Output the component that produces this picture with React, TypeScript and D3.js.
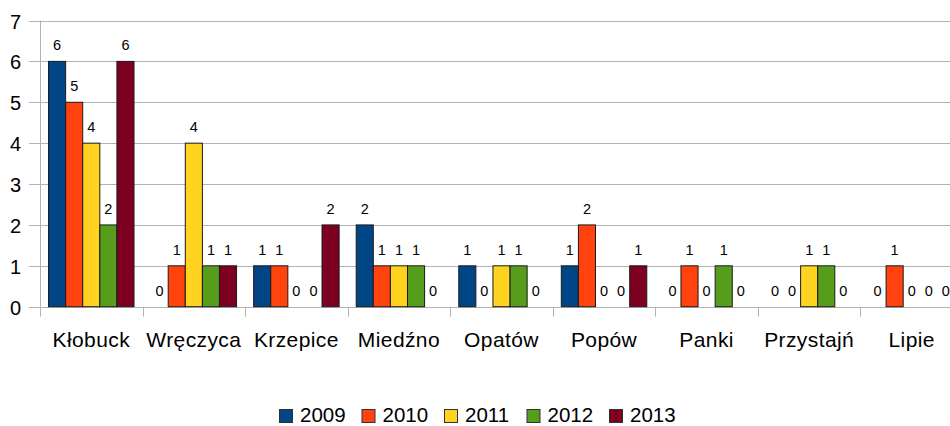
import React, { useRef, useEffect } from "react";
import * as d3 from "d3";

const categories = ["Kłobuck", "Wręczyca", "Krzepice", "Miedźno", "Opatów", "Popów", "Panki", "Przystajń", "Lipie"];
const seriesNames = ["2009", "2010", "2011", "2012", "2013"];
const seriesColors = ["#004586", "#ff420e", "#ffd320", "#579d1c", "#7e0021"];

const values2009 = [6, 0, 1, 2, 1, 1, 0, 0, 0];
const values2010 = [5, 1, 1, 1, 0, 2, 1, 0, 1];
const values2011 = [4, 4, 0, 1, 1, 0, 0, 1, 0];
const values2012 = [2, 1, 0, 1, 1, 0, 1, 1, 0];
const values2013 = [6, 1, 2, 0, 0, 1, 0, 0, 0];

const yTicks = [0, 1, 2, 3, 4, 5, 6, 7];

const App = () => {
  const svgRef = useRef<SVGSVGElement>(null);

  useEffect(() => {
    const width = 950;
    const height = 426;
    const marginLeft = 40;
    const plotRight = 963; // last band is cut off by the picture edge
    const y0 = 306.7;
    const yTop = 20.5;
    const font = "'Liberation Sans', Arial, sans-serif";

    const allSeries = [values2009, values2010, values2011, values2012, values2013];

    const svg = d3.select(svgRef.current);
    svg.selectAll("*").remove();
    svg.attr("width", width).attr("height", height).style("display", "block");

    const x = d3.scaleBand().domain(categories).range([marginLeft, plotRight]).paddingInner(0).paddingOuter(0);
    const xInner = d3.scaleBand().domain(seriesNames).range([x.bandwidth() / 12, x.bandwidth() * 11 / 12]);
    const y = d3.scaleLinear().domain([0, 7]).range([y0, yTop]);

    // gridlines + small ticks left of the axis
    svg.append("g")
      .selectAll("line")
      .data(yTicks)
      .join("line")
      .attr("x1", marginLeft - 11)
      .attr("x2", width)
      .attr("y1", d => Math.round(y(d)) + 0.5)
      .attr("y2", d => Math.round(y(d)) + 0.5)
      .attr("stroke", "#b3b3b3")
      .attr("stroke-width", 1);

    // y axis line
    svg.append("line")
      .attr("x1", marginLeft + 0.5).attr("x2", marginLeft + 0.5)
      .attr("y1", y(7)).attr("y2", y(0))
      .attr("stroke", "#b3b3b3");

    // category ticks
    const catTicks = d3.range(categories.length + 1).map(i => marginLeft + i * x.step());
    svg.append("g")
      .selectAll("line")
      .data(catTicks)
      .join("line")
      .attr("x1", d => Math.round(d) + 0.5)
      .attr("x2", d => Math.round(d) + 0.5)
      .attr("y1", y(0))
      .attr("y2", y(0) + 10)
      .attr("stroke", "#b3b3b3");

    // y labels
    svg.append("g")
      .selectAll("text")
      .data(yTicks)
      .join("text")
      .attr("x", 21)
      .attr("y", d => y(d) + 1)
      .attr("dy", "0.35em")
      .attr("text-anchor", "end")
      .attr("font-family", font)
      .attr("font-size", 20)
      .text(d => d);

    // bars + value labels
    allSeries.forEach((vals, si) => {
      const g = svg.append("g");
      g.selectAll("rect")
        .data(vals)
        .join("rect")
        .attr("x", (d, i) => x(categories[i])! + xInner(seriesNames[si])!)
        .attr("y", d => y(d))
        .attr("width", xInner.bandwidth())
        .attr("height", d => y(0) - y(d))
        .attr("fill", seriesColors[si])
        .attr("stroke", "#1a1a1a")
        .attr("stroke-width", d => (d > 0 ? 1 : 0));

      g.selectAll("text")
        .data(vals)
        .join("text")
        .attr("x", (d, i) => x(categories[i])! + xInner(seriesNames[si])! + xInner.bandwidth() / 2)
        .attr("y", d => y(d) - 11)
        .attr("text-anchor", "middle")
        .attr("font-family", font)
        .attr("font-size", 14.5)
        .text(d => d);
    });

    // category labels
    svg.append("g")
      .selectAll("text")
      .data(categories)
      .join("text")
      .attr("x", d => x(d)! + x.bandwidth() / 2)
      .attr("y", 347)
      .attr("text-anchor", "middle")
      .attr("font-family", font)
      .attr("font-size", 21)
      .attr("letter-spacing", 0.4)
      .text(d => d);

    // legend
    const legendX = 279.5;
    const step = 82.5;
    const legend = svg.append("g");
    seriesNames.forEach((name, i) => {
      legend.append("rect")
        .attr("x", legendX + i * step)
        .attr("y", 409.5)
        .attr("width", 13)
        .attr("height", 13)
        .attr("fill", seriesColors[i])
        .attr("stroke", "#333")
        .attr("stroke-width", 1);
      legend.append("text")
        .attr("x", legendX + i * step + 20.5)
        .attr("y", 422)
        .attr("font-family", font)
        .attr("font-size", 20.5)
        .text(name);
    });
  }, []);

  return (
    <div style={{ position: "absolute", left: 0, top: 0 }}>
      <svg ref={svgRef} />
    </div>
  );
};

export default App;
